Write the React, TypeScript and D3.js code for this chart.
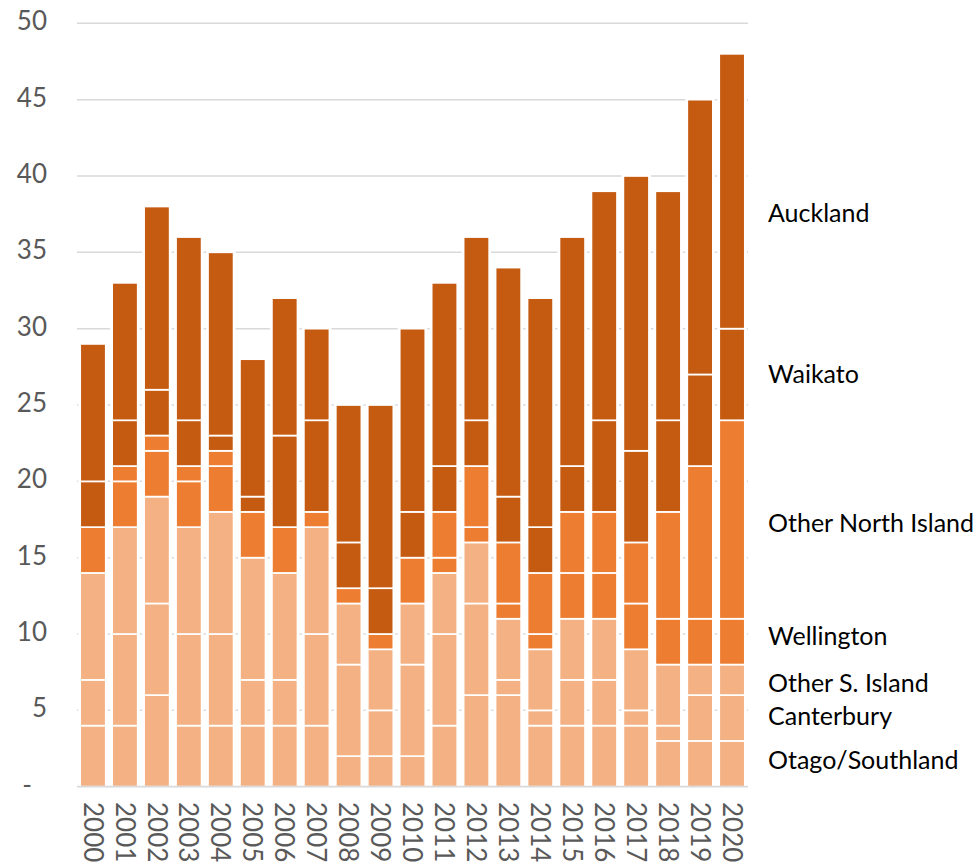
import React from "react";
import * as d3 from "d3";

const years = ["2000","2001","2002","2003","2004","2005","2006","2007","2008","2009","2010","2011","2012","2013","2014","2015","2016","2017","2018","2019","2020"];
const otagoSouthland = [4,4,6,4,4,4,4,4,2,2,2,4,6,6,4,4,4,4,3,3,3];
const canterbury = [3,6,6,6,6,3,3,6,6,3,6,6,6,1,1,3,3,1,1,3,3];
const otherSIsland = [7,7,7,7,8,8,7,7,4,4,4,4,4,4,4,4,4,4,4,2,2];
const wellington = [3,3,3,3,3,3,3,1,1,1,3,1,1,1,1,3,3,3,3,3,3];
const otherNorthIsland = [0,1,1,1,1,0,0,0,0,0,0,3,4,4,4,4,4,4,7,10,13];
const waikato = [3,3,3,3,1,1,6,6,3,3,3,3,3,3,3,3,6,6,6,6,6];
const auckland = [9,9,12,12,12,9,9,6,9,12,12,12,12,15,15,15,15,18,15,18,18];

const seriesNames = ["Otago/Southland","Canterbury","Other S. Island","Wellington","Other North Island","Waikato","Auckland"];
const seriesValues = [otagoSouthland, canterbury, otherSIsland, wellington, otherNorthIsland, waikato, auckland];
const seriesColors = ["#F4B183","#F4B183","#F4B183","#ED7D31","#ED7D31","#C55A11","#C55A11"];
// label vertical anchors in data units
const labelAt = [1.75, 4.63, 6.79, 9.87, 17.27, 27.03, 37.57];
const yTicks = [0,5,10,15,20,25,30,35,40,45,50];

const W = 978, H = 864;
const FONT = "Lato, 'DejaVu Sans', sans-serif";

export default function App() {
  const x = d3.scaleBand<string>().domain(years).range([77, 748]).paddingInner(0.2).paddingOuter(0.1);
  const y = d3.scaleLinear().domain([0, 50]).range([786.7, 23.3]);

  const table = years.map((yr, i) => {
    const row: any = { year: yr };
    seriesNames.forEach((s, k) => (row[s] = seriesValues[k][i]));
    return row;
  });
  const stack = d3.stack<any>().keys(seriesNames)(table);
  const totals = years.map((_, i) => seriesValues.reduce((a, s) => a + s[i], 0));
  const bw = x.bandwidth();

  return (
    <div style={{ position: "absolute", left: 0, top: 0 }}>
      <svg width={W} height={H} style={{ display: "block", background: "#fff" }}>
        {yTicks.filter(t => t > 0).map(t => (
          <line key={t} x1={77} x2={748} y1={y(t)} y2={y(t)} stroke="#D9D9D9" strokeWidth={1.5} />
        ))}
        {years.map((yr, i) => (
          <rect key={"h" + yr} x={(x(yr) as number) - 2} width={bw + 4} y={y(totals[i]) - 2} height={y(0) - y(totals[i]) + 2} fill="#fff" />
        ))}
        {stack.map((layer, k) => (
          <g key={layer.key} fill={seriesColors[k]}>
            {layer.map((d, i) => d[1] - d[0] > 0 ? (
              <rect key={i} x={x(years[i])} width={bw} y={y(d[1])} height={y(d[0]) - y(d[1])} stroke="#fff" strokeWidth={1.7} />
            ) : null)}
          </g>
        ))}
        <line x1={77} x2={748} y1={y(0)} y2={y(0)} stroke="#D9D9D9" strokeWidth={1.8} />
        {yTicks.map(t => (
          <text key={"yt" + t} x={t === 0 ? 32 : 47} y={y(t) - 2} dy="0.35em" textAnchor="end" fontFamily={FONT} fontSize={26} fill="#595959">
            {t === 0 ? "-" : String(t)}
          </text>
        ))}
        {years.map(yr => {
          const cx = (x(yr) as number) + bw / 2;
          return (
            <text key={"xt" + yr} transform={`translate(${cx},802) rotate(90)`} dy="0.36em" textAnchor="start" fontFamily={FONT} fontSize={26} fill="#595959">
              {yr}
            </text>
          );
        })}
        {seriesNames.map((s, k) => (
          <text key={"lb" + s} x={768} y={y(labelAt[k])} dy="0.36em" fontFamily={FONT} fontSize={25} fill="#000">
            {s}
          </text>
        ))}
      </svg>
    </div>
  );
}
